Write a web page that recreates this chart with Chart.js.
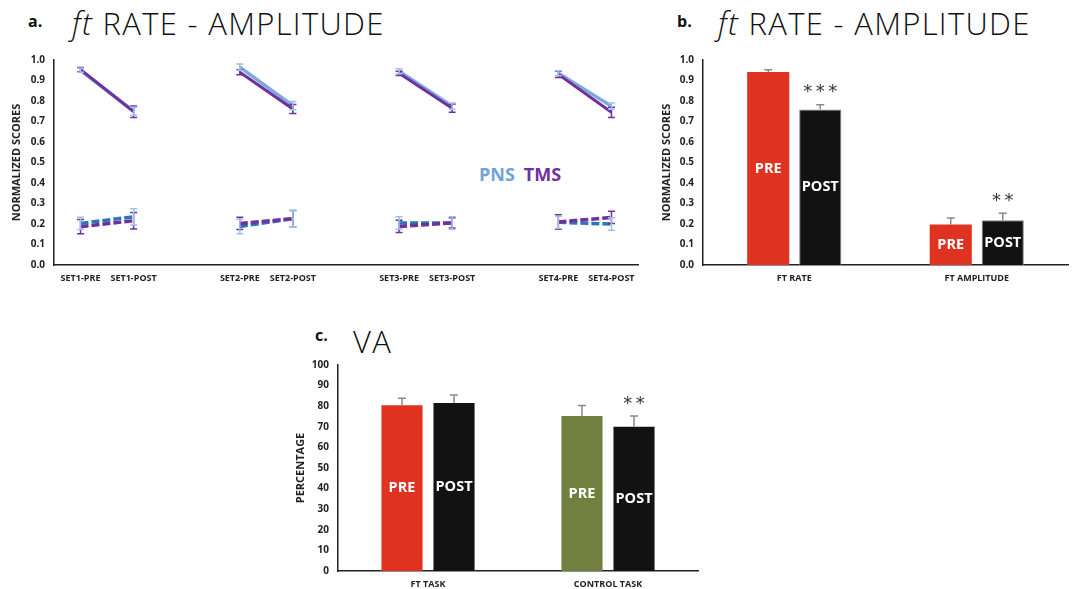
<!DOCTYPE html>
<html><head><meta charset="utf-8">
<script src="https://cdn.jsdelivr.net/npm/chart.js@4.4.0/dist/chart.umd.min.js"></script>
<style>
body{margin:0;width:1073px;height:589px;background:#fff;position:relative;overflow:hidden;font-family:'Open Sans',sans-serif;}
.box{position:absolute;}
.lbl{position:absolute;font-weight:700;font-size:16px;color:#111;line-height:1;}
.ttl{position:absolute;font-size:31px;font-weight:300;color:#111;line-height:1;white-space:nowrap;letter-spacing:1.3px;}
.leg{position:absolute;font-weight:700;font-size:18px;line-height:1;white-space:nowrap;}
</style></head><body>
<div class="lbl" style="left:28px;top:13px">a.</div>
<div class="ttl" style="left:72px;top:8px"><i>ft</i> RATE - AMPLITUDE</div>
<div class="lbl" style="left:677px;top:13px">b.</div>
<div class="ttl" style="left:718px;top:8px"><i>ft</i> RATE - AMPLITUDE</div>
<div class="lbl" style="left:315px;top:327px">c.</div>
<div class="ttl" style="left:353px;top:326px">VA</div>
<div class="leg" style="left:479px;top:165px"><span style="color:#72a3d6">PNS</span><span style="color:#7030a0;margin-left:9px">TMS</span></div>
<div class="box" style="left:0;top:45px;width:650px;height:250px"><canvas id="ca" width="650" height="250"></canvas></div>
<div class="box" style="left:650px;top:45px;width:423px;height:250px"><canvas id="cb" width="423" height="250"></canvas></div>
<div class="box" style="left:280px;top:350px;width:430px;height:239px"><canvas id="cc" width="430" height="239"></canvas></div>
<script>
// ---- Panel a data ----
const setLabels = ['SET1-PRE','SET1-POST','','SET2-PRE','SET2-POST','','SET3-PRE','SET3-POST','','SET4-PRE','SET4-POST'];
const pnsRate    = [0.950,0.750,null,0.965,0.777,null,0.945,0.775,null,0.935,0.775];
const pnsRateErr = [0.010,0.020,null,0.015,0.020,null,0.012,0.015,null,0.012,0.015];
const tmsRate    = [0.953,0.748,null,0.940,0.761,null,0.935,0.765,null,0.930,0.745];
const tmsRateErr = [0.010,0.028,null,0.012,0.022,null,0.010,0.020,null,0.015,0.025];
const pnsAmp     = [0.203,0.235,null,0.188,0.226,null,0.205,0.205,null,0.208,0.200];
const pnsAmpErr  = [0.030,0.040,null,0.035,0.040,null,0.030,0.030,null,0.030,0.030];
const tmsAmp     = [0.187,0.216,null,0.203,0.226,null,0.188,0.205,null,0.210,0.232];
const tmsAmpErr  = [0.035,0.040,null,0.030,0.040,null,0.030,0.025,null,0.035,0.030];
// ---- Panel b data ----
const bCats = ['FT RATE','FT AMPLITUDE'];
const bPre = [0.942,0.197];
const bPreErr = [0.011,0.032];
const bPost = [0.758,0.218];
const bPostErr = [0.024,0.035];
const bSig = ['***','**'];
// ---- Panel c data ----
const cCats = ['FT TASK','CONTROL TASK'];
const cPre = [80.5,75.3];
const cPreErr = [3.4,5.0];
const cPost = [81.6,70.0];
const cPostErr = [3.8,5.2];
const cSig = ['','**'];
const barText = ['PRE','POST'];

const AX = '#222';
const tickFont = {family:'Open Sans', weight:'bold', size:10};
const xFont = {family:'Open Sans', weight:'bold', size:9};

const errPlugin = {
  id:'err',
  afterDatasetsDraw(chart){
    const ctx = chart.ctx, ys = chart.scales.y;
    chart.data.datasets.forEach((ds,di)=>{
      if(!ds.err) return;
      const meta = chart.getDatasetMeta(di);
      ctx.save();
      ctx.strokeStyle = ds.errColor; ctx.lineWidth = ds.errWidth || 1.5;
      const cap = ds.cap || 4;
      ds.data.forEach((v,i)=>{
        const e = ds.err[i]; if(v==null || e==null) return;
        const x = meta.data[i].x;
        const yt = ys.getPixelForValue(v+e);
        const yb = ds.errUp ? ys.getPixelForValue(v) : ys.getPixelForValue(v-e);
        ctx.beginPath();
        ctx.moveTo(x,yt); ctx.lineTo(x,yb);
        ctx.moveTo(x-cap,yt); ctx.lineTo(x+cap,yt);
        if(!ds.errUp){ ctx.moveTo(x-cap,yb); ctx.lineTo(x+cap,yb); }
        ctx.stroke();
      });
      ctx.restore();
    });
  }
};
const textPlugin = {
  id:'txt',
  afterDatasetsDraw(chart){
    const ctx = chart.ctx, ys = chart.scales.y;
    chart.data.datasets.forEach((ds,di)=>{
      const meta = chart.getDatasetMeta(di);
      ds.data.forEach((v,i)=>{
        const el = meta.data[i];
        if(ds.inner){
          ctx.save();
          ctx.fillStyle = '#fff'; ctx.font = 'bold 14.5px "Open Sans"';
          ctx.textAlign = 'center'; ctx.textBaseline = 'middle';
          ctx.fillText(ds.inner, el.x, (el.y + el.base)/2);
          ctx.restore();
        }
        if(ds.sig && ds.sig[i]){
          ctx.save();
          ctx.fillStyle = '#333'; ctx.font = '18px "DejaVu Sans"';
          ctx.textAlign = 'center'; ctx.textBaseline = 'middle';
          const top = ys.getPixelForValue(v + ds.err[i]);
          ctx.fillText(ds.sig[i].split('').join('\u2009'), el.x, top - 12);
          ctx.restore();
        }
      });
    });
  }
};

function yScale(min,max,step,w,title,fmt,tpad){
  return {
    min:min, max:max,
    afterFit(s){ s.width = w; },
    grid:{display:false, drawTicks:false},
    border:{display:true, color:AX, width:1.5},
    ticks:{stepSize:step, font:tickFont, color:AX, padding:9, callback:fmt},
    title:{display:true, text:title, font:{family:'Open Sans', weight:'bold', size:11}, color:AX, padding:{top:tpad,bottom:0}}
  };
}
function xScale(h){
  return {
    offset:true,
    afterFit(s){ s.height = h; },
    grid:{display:false, drawTicks:false, offset:true},
    border:{display:true, color:AX, width:1.5},
    ticks:{font:xFont, color:AX, padding:8, autoSkip:false, maxRotation:0}
  };
}
const base = {responsive:false, animation:false, plugins:{legend:{display:false}, tooltip:{enabled:false}}};

// Panel a
new Chart(document.getElementById('ca'), {
  type:'line',
  data:{labels:setLabels, datasets:[
    {data:tmsRate, err:tmsRateErr, borderColor:'#7030a0', errColor:'#7030a0', borderWidth:3, pointRadius:0, order:0, spanGaps:false, cap:3.5},
    {data:pnsRate, err:pnsRateErr, borderColor:'#7eaad8', errColor:'#9dc3e6', borderWidth:3.5, pointRadius:0, order:2, spanGaps:false, cap:3.5},
    {data:tmsAmp, err:tmsAmpErr, borderColor:'#7030a0', errColor:'#7030a0', borderWidth:3.5, borderDash:[8,3], pointRadius:0, order:1, spanGaps:false, cap:3.5},
    {data:pnsAmp, err:pnsAmpErr, borderColor:'#2e75b6', errColor:'#9dc3e6', borderWidth:3.5, borderDash:[8,3], pointRadius:0, order:3, spanGaps:false, cap:3.5}
  ]},
  options:Object.assign({}, base, {
    layout:{padding:{top:12,right:12,left:0,bottom:0}},
    scales:{
      y:yScale(0,1,0.1,54,'NORMALIZED SCORES',v=>v.toFixed(1),10),
      x:xScale(30)
    }
  }),
  plugins:[errPlugin]
});

// Panel b
new Chart(document.getElementById('cb'), {
  type:'bar',
  data:{labels:bCats, datasets:[
    {data:bPre, err:bPreErr, errUp:true, errColor:'#8a8a8a', backgroundColor:'#e03220', inner:barText[0], categoryPercentage:0.57, barPercentage:0.81},
    {data:bPost, err:bPostErr, errUp:true, errColor:'#8a8a8a', backgroundColor:'#121212', borderColor:'#7f7f7f', borderWidth:1, inner:barText[1], sig:bSig, categoryPercentage:0.57, barPercentage:0.81}
  ]},
  options:Object.assign({}, base, {
    layout:{padding:{top:12,right:5,left:0,bottom:0}},
    scales:{
      y:yScale(0,1,0.1,53,'NORMALIZED SCORES',v=>v.toFixed(1),10),
      x:xScale(30)
    }
  }),
  plugins:[textPlugin, errPlugin]
});

// Panel c
new Chart(document.getElementById('cc'), {
  type:'bar',
  data:{labels:cCats, datasets:[
    {data:cPre, err:cPreErr, errUp:true, errColor:'#8a8a8a', backgroundColor:['#e03220','#71803e'], inner:barText[0], categoryPercentage:0.578, barPercentage:0.79},
    {data:cPost, err:cPostErr, errUp:true, errColor:'#8a8a8a', backgroundColor:'#121212', inner:barText[1], sig:cSig, categoryPercentage:0.578, barPercentage:0.79}
  ]},
  options:Object.assign({}, base, {
    layout:{padding:{top:14,right:12,left:0,bottom:0}},
    scales:{
      y:yScale(0,100,10,58,'PERCENTAGE',v=>v,14),
      x:xScale(18)
    }
  }),
  plugins:[textPlugin, errPlugin]
});
</script>
</body></html>
